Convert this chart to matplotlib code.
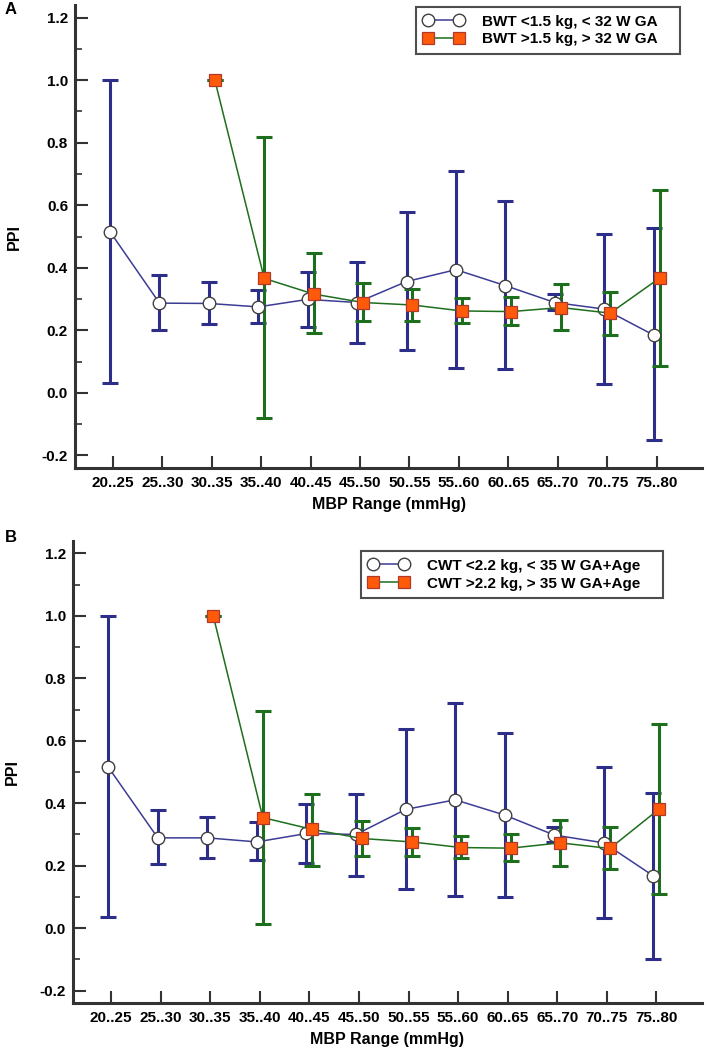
import matplotlib.pyplot as plt
import numpy as np

plt.rcParams['font.family'] = ['Liberation Sans', 'DejaVu Sans']
plt.rcParams['font.weight'] = 'bold'

ranges = ['20..25', '25..30', '30..35', '35..40', '40..45', '45..50',
          '50..55', '55..60', '60..65', '65..70', '70..75', '75..80']

# Panel A - BWT groups
a_low_mean = [0.515, 0.287, 0.286, 0.275, 0.299, 0.289, 0.356, 0.394, 0.343, 0.289, 0.268, 0.185]
a_low_hi = [1.0, 0.377, 0.353, 0.330, 0.387, 0.420, 0.579, 0.710, 0.614, 0.315, 0.508, 0.526]
a_low_lo = [0.031, 0.200, 0.221, 0.223, 0.212, 0.161, 0.138, 0.081, 0.077, 0.265, 0.028, -0.151]
a_high_mean = [1.0, 0.366, 0.316, 0.289, 0.281, 0.262, 0.260, 0.273, 0.255, 0.367]
a_high_hi = [1.0, 0.817, 0.447, 0.351, 0.331, 0.304, 0.308, 0.347, 0.324, 0.648]
a_high_lo = [1.0, -0.079, 0.190, 0.230, 0.229, 0.223, 0.218, 0.202, 0.186, 0.087]

# Panel B - CWT groups
b_low_mean = [0.516, 0.289, 0.289, 0.276, 0.303, 0.300, 0.380, 0.411, 0.362, 0.298, 0.273, 0.167]
b_low_hi = [1.0, 0.379, 0.356, 0.339, 0.399, 0.429, 0.637, 0.721, 0.626, 0.325, 0.515, 0.434]
b_low_lo = [0.035, 0.204, 0.223, 0.218, 0.207, 0.166, 0.124, 0.102, 0.099, 0.275, 0.032, -0.098]
b_high_mean = [1.0, 0.354, 0.316, 0.287, 0.276, 0.258, 0.256, 0.273, 0.255, 0.382]
b_high_hi = [1.0, 0.697, 0.431, 0.343, 0.321, 0.294, 0.301, 0.345, 0.324, 0.655]
b_high_lo = [1.0, 0.014, 0.200, 0.230, 0.230, 0.223, 0.215, 0.200, 0.189, 0.109]

blue = '#3c3c96'
blue_bar = '#2d2d8a'
green = '#1d6e1d'
orange = '#ff5a0a'


def drawPanel(ax, lowMean, lowHi, lowLo, highMean, highHi, highLo, labels, legBox):
    x = np.arange(len(ranges))
    xl = x - 0.06
    xh = x[2:] + 0.06
    lowMean = np.array(lowMean)
    highMean = np.array(highMean)
    lowErr = [lowMean - np.array(lowLo), np.array(lowHi) - lowMean]
    highErr = [highMean - np.array(highLo), np.array(highHi) - highMean]

    ax.errorbar(xl, lowMean, yerr=lowErr, fmt='none', ecolor=blue_bar,
                elinewidth=2.2, capsize=6, capthick=2.2, zorder=2)
    ax.errorbar(xh, highMean, yerr=highErr, fmt='none', ecolor=green,
                elinewidth=2.2, capsize=6, capthick=2.2, zorder=2)
    ax.plot(xl, lowMean, '-o', color=blue, lw=1.1, markersize=9,
            markerfacecolor='white', markeredgecolor='#404040', markeredgewidth=1.0,
            label=labels[0], zorder=3)
    ax.plot(xh, highMean, '-s', color=green, lw=1.1, markersize=8.5,
            markerfacecolor=orange, markeredgecolor='#b03a2a', markeredgewidth=0.9,
            label=labels[1], zorder=4)

    ax.set_xlim(-0.77, 11.92)
    ax.set_ylim(-0.24, 1.24)
    ax.set_xticks(x)
    ax.set_xticklabels(ranges)
    ax.set_yticks(np.arange(-0.2, 1.21, 0.2))
    ax.set_yticks(np.arange(-0.1, 1.2, 0.2), minor=True)
    ax.set_yticklabels(['%.1f' % v for v in np.arange(-0.2, 1.21, 0.2)])
    ax.tick_params(axis='both', which='major', direction='in', length=9, width=1.5,
                   labelsize=11, color='#333333')
    ax.tick_params(axis='y', which='minor', direction='in', length=5, width=1.2,
                   color='#333333')
    ax.tick_params(axis='x', pad=6)
    ax.tick_params(axis='y', pad=5)
    for side in ['top', 'right']:
        ax.spines[side].set_visible(False)
    for side in ['left', 'bottom']:
        ax.spines[side].set_linewidth(2.2)
        ax.spines[side].set_color('#333333')
    ax.set_xlabel('MBP Range (mmHg)', fontsize=11.5, fontweight='bold', labelpad=5)
    ax.set_ylabel('PPI', fontsize=11.5, fontweight='bold')
    ax.yaxis.set_label_coords(-0.085, 0.5)
    leg = ax.legend(loc='upper left', mode='expand', numpoints=2, fontsize=11,
                    frameon=True, fancybox=False, edgecolor='#222222',
                    handlelength=2.6, borderpad=0.5, labelspacing=0.25,
                    handletextpad=1.2, borderaxespad=0, bbox_to_anchor=legBox)
    leg.get_frame().set_linewidth(1.5)


fig = plt.figure(figsize=(7.08, 10.54), dpi=100)
W, H = 708, 1054
axA = fig.add_axes([75 / W, 1 - 468 / H, (702 - 75) / W, (468 - 5) / H])
axB = fig.add_axes([73 / W, 1 - 1003 / H, (702 - 73) / W, (1003 - 541) / H])

drawPanel(axA, a_low_mean, a_low_hi, a_low_lo, a_high_mean, a_high_hi, a_high_lo,
          ['BWT <1.5 kg, < 32 W GA', 'BWT >1.5 kg, > 32 W GA'],
          (0.544, 0.9957 - 0.2, 0.421, 0.2))
drawPanel(axB, b_low_mean, b_low_hi, b_low_lo, b_high_mean, b_high_hi, b_high_lo,
          ['CWT <2.2 kg, < 35 W GA+Age', 'CWT >2.2 kg, > 35 W GA+Age'],
          (0.458, 0.978 - 0.2, 0.480, 0.2))

fig.text(5 / W, 1 - 10 / H, 'A', fontsize=12, fontweight='bold', va='center')
fig.text(5 / W, 1 - 538 / H, 'B', fontsize=12, fontweight='bold', va='center')

fig.savefig('out.png', dpi=100)
